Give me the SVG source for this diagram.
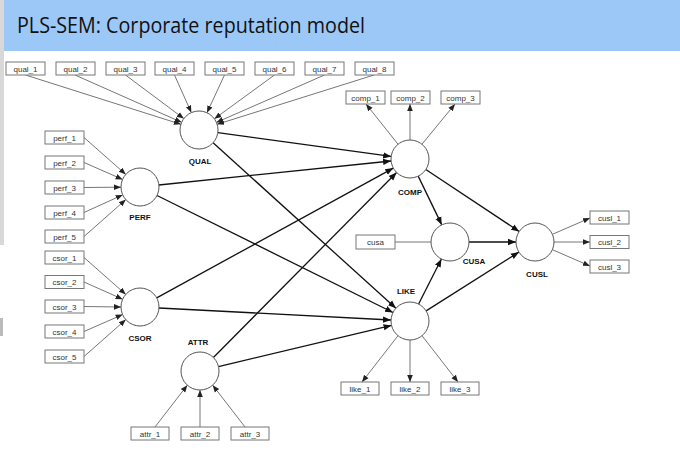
<svg xmlns="http://www.w3.org/2000/svg" width="680" height="461" viewBox="0 0 680 461">
<style>
.box{fill:#fff;stroke:#777;stroke-width:1}
.bt{font-family:"Liberation Sans",Arial,sans-serif;font-size:8px;fill:#333;text-anchor:middle}
.lv{fill:#fff;stroke:#555;stroke-width:1}
.lt{font-family:"Liberation Sans",Arial,sans-serif;font-size:8px;font-weight:bold;fill:#111;text-anchor:middle}
.ind line{stroke:#666;stroke-width:0.9;marker-end:url(#ag)}
.str line{stroke:#111;stroke-width:1.3;marker-end:url(#ab)}
</style>
<defs>
<marker id="ag" viewBox="0 0 10 10" refX="10" refY="5" markerWidth="7" markerHeight="7" markerUnits="userSpaceOnUse" orient="auto"><path d="M0,1 L10,5 L0,9 z" fill="#222"/></marker>
<marker id="ab" viewBox="0 0 10 10" refX="10" refY="5" markerWidth="8" markerHeight="8" markerUnits="userSpaceOnUse" orient="auto"><path d="M0,1 L10,5 L0,9 z" fill="#111"/></marker>
</defs>
<rect width="680" height="461" fill="#fff"/>
<rect x="0" y="0" width="4" height="245" fill="#d8d8d8"/>
<rect x="0" y="318" width="3" height="18" fill="#bbb"/>
<rect x="4" y="0" width="676" height="51" fill="#9cc8f8"/>
<text x="17" y="33" font-family="'Open Sans','Noto Sans',sans-serif" font-size="21" fill="#111" textLength="348" lengthAdjust="spacingAndGlyphs">PLS-SEM: Corporate reputation model</text>

<g id="connectors">
<g class="ind">
<line x1="25.5" y1="75" x2="180.9" y2="124.3"/>
<line x1="75" y1="75" x2="181.6" y2="122.3"/>
<line x1="125.5" y1="75" x2="183.8" y2="118.6"/>
<line x1="174.5" y1="75" x2="191.3" y2="112.6"/>
<line x1="224.5" y1="75" x2="207" y2="112.7"/>
<line x1="274.5" y1="75" x2="214.4" y2="118.8"/>
<line x1="324.5" y1="75" x2="216.4" y2="122.4"/>
<line x1="374" y1="75" x2="217.1" y2="124.3"/>
<line x1="84" y1="137.5" x2="125.8" y2="174.4"/>
<line x1="84" y1="162.5" x2="122.6" y2="179.4"/>
<line x1="84" y1="187.5" x2="121" y2="187.2"/>
<line x1="84" y1="212.5" x2="122.7" y2="194.9"/>
<line x1="84" y1="236.5" x2="125.8" y2="199.6"/>
<line x1="84" y1="257.5" x2="125.8" y2="294.4"/>
<line x1="84" y1="282" x2="122.6" y2="299.2"/>
<line x1="84" y1="306.5" x2="121" y2="307"/>
<line x1="84" y1="331.5" x2="122.6" y2="314.6"/>
<line x1="84" y1="356.5" x2="125.8" y2="319.6"/>
<line x1="155" y1="427" x2="187.3" y2="385.2"/>
<line x1="200" y1="427" x2="200" y2="390"/>
<line x1="245" y1="427" x2="212.7" y2="385.2"/>
<line x1="398" y1="144.2" x2="366" y2="104"/>
<line x1="410" y1="140" x2="410" y2="104"/>
<line x1="422" y1="144.2" x2="455" y2="104"/>
<line x1="398" y1="335.7" x2="362" y2="382"/>
<line x1="410" y1="340" x2="410" y2="382"/>
<line x1="422" y1="335.7" x2="458" y2="382"/>
<line x1="552.4" y1="234.3" x2="590" y2="218"/>
<line x1="554" y1="242" x2="590" y2="242"/>
<line x1="552.4" y1="249.7" x2="590" y2="266"/>
</g>
<line x1="395" y1="242" x2="431" y2="242" stroke="#666" stroke-width="0.9"/>
<g class="str">
<line x1="217.8" y1="132.6" x2="391.2" y2="156.4"/>
<line x1="213.1" y1="142.7" x2="395.9" y2="308.3"/>
<line x1="158.9" y1="185" x2="391.1" y2="161"/>
<line x1="157" y1="195.5" x2="393" y2="312.5"/>
<line x1="156.7" y1="297.9" x2="393.3" y2="168.1"/>
<line x1="159" y1="308" x2="391" y2="320"/>
<line x1="213.4" y1="357.5" x2="396.6" y2="172.5"/>
<line x1="218.5" y1="366.6" x2="391.5" y2="325.4"/>
<line x1="418.2" y1="176.1" x2="441.8" y2="224.9"/>
<line x1="425.8" y1="169.5" x2="519.2" y2="231.5"/>
<line x1="418.6" y1="304" x2="441.4" y2="259"/>
<line x1="426.1" y1="310.9" x2="518.9" y2="252.1"/>
<line x1="469" y1="242" x2="516" y2="242"/>
</g>
</g>

<g id="qual_1"><rect class="box" x="6" y="62" width="39" height="13"/><text class="bt" x="25.5" y="71.5">qual_1</text></g>
<g id="qual_2"><rect class="box" x="56" y="62" width="39" height="13"/><text class="bt" x="75.5" y="71.5">qual_2</text></g>
<g id="qual_3"><rect class="box" x="106" y="62" width="39" height="13"/><text class="bt" x="125.5" y="71.5">qual_3</text></g>
<g id="qual_4"><rect class="box" x="155" y="62" width="39" height="13"/><text class="bt" x="174.5" y="71.5">qual_4</text></g>
<g id="qual_5"><rect class="box" x="205" y="62" width="39" height="13"/><text class="bt" x="224.5" y="71.5">qual_5</text></g>
<g id="qual_6"><rect class="box" x="255" y="62" width="39" height="13"/><text class="bt" x="274.5" y="71.5">qual_6</text></g>
<g id="qual_7"><rect class="box" x="305" y="62" width="39" height="13"/><text class="bt" x="324.5" y="71.5">qual_7</text></g>
<g id="qual_8"><rect class="box" x="355" y="62" width="39" height="13"/><text class="bt" x="374.5" y="71.5">qual_8</text></g>

<g id="perf_1"><rect class="box" x="45" y="131" width="39" height="13"/><text class="bt" x="64.5" y="140.5">perf_1</text></g>
<g id="perf_2"><rect class="box" x="45" y="156" width="39" height="13"/><text class="bt" x="64.5" y="165.5">perf_2</text></g>
<g id="perf_3"><rect class="box" x="45" y="181" width="39" height="13"/><text class="bt" x="64.5" y="190.5">perf_3</text></g>
<g id="perf_4"><rect class="box" x="45" y="206" width="39" height="13"/><text class="bt" x="64.5" y="215.5">perf_4</text></g>
<g id="perf_5"><rect class="box" x="45" y="230" width="39" height="13"/><text class="bt" x="64.5" y="239.5">perf_5</text></g>
<g id="csor_1"><rect class="box" x="45" y="251" width="39" height="13"/><text class="bt" x="64.5" y="260.5">csor_1</text></g>
<g id="csor_2"><rect class="box" x="45" y="275.5" width="39" height="13"/><text class="bt" x="64.5" y="285">csor_2</text></g>
<g id="csor_3"><rect class="box" x="45" y="300" width="39" height="13"/><text class="bt" x="64.5" y="309.5">csor_3</text></g>
<g id="csor_4"><rect class="box" x="45" y="325" width="39" height="13"/><text class="bt" x="64.5" y="334.5">csor_4</text></g>
<g id="csor_5"><rect class="box" x="45" y="350" width="39" height="13"/><text class="bt" x="64.5" y="359.5">csor_5</text></g>

<g id="attr_1"><rect class="box" x="131" y="427" width="38" height="13"/><text class="bt" x="150" y="436.5">attr_1</text></g>
<g id="attr_2"><rect class="box" x="181" y="427" width="38" height="13"/><text class="bt" x="200" y="436.5">attr_2</text></g>
<g id="attr_3"><rect class="box" x="231" y="427" width="38" height="13"/><text class="bt" x="250" y="436.5">attr_3</text></g>

<g id="comp_1"><rect class="box" x="346" y="91" width="39" height="13"/><text class="bt" x="365.5" y="100.5">comp_1</text></g>
<g id="comp_2"><rect class="box" x="391" y="91" width="39" height="13"/><text class="bt" x="410.5" y="100.5">comp_2</text></g>
<g id="comp_3"><rect class="box" x="441" y="91" width="39" height="13"/><text class="bt" x="460.5" y="100.5">comp_3</text></g>

<g id="like_1"><rect class="box" x="341" y="382" width="38" height="13"/><text class="bt" x="360" y="391.5">like_1</text></g>
<g id="like_2"><rect class="box" x="391" y="382" width="38" height="13"/><text class="bt" x="410" y="391.5">like_2</text></g>
<g id="like_3"><rect class="box" x="441" y="382" width="38" height="13"/><text class="bt" x="460" y="391.5">like_3</text></g>

<g id="cusa"><rect class="box" x="356" y="235" width="39" height="14"/><text class="bt" x="375.5" y="245">cusa</text></g>
<g id="cusl_1"><rect class="box" x="590" y="211" width="39" height="13"/><text class="bt" x="609.5" y="220.5">cusl_1</text></g>
<g id="cusl_2"><rect class="box" x="590" y="235.5" width="39" height="13"/><text class="bt" x="609.5" y="245">cusl_2</text></g>
<g id="cusl_3"><rect class="box" x="590" y="260" width="39" height="13"/><text class="bt" x="609.5" y="269.5">cusl_3</text></g>

<g id="QUAL"><circle class="lv" cx="199" cy="130" r="19"/><text class="lt" x="200" y="164">QUAL</text></g>
<g id="PERF"><circle class="lv" cx="140" cy="187" r="19"/><text class="lt" x="140" y="220">PERF</text></g>
<g id="CSOR"><circle class="lv" cx="140" cy="307" r="19"/><text class="lt" x="140" y="341">CSOR</text></g>
<g id="ATTR"><circle class="lv" cx="200" cy="371" r="19"/><text class="lt" x="198" y="345">ATTR</text></g>
<g id="LIKE"><circle class="lv" cx="410" cy="321" r="19"/><text class="lt" x="406" y="294">LIKE</text></g>
<g id="COMP"><circle class="lv" cx="410" cy="159" r="19"/><text class="lt" x="410" y="195">COMP</text></g>
<g id="CUSA"><circle class="lv" cx="450" cy="242" r="19"/><text class="lt" x="474" y="264">CUSA</text></g>
<g id="CUSL"><circle class="lv" cx="535" cy="242" r="19"/><text class="lt" x="537" y="277">CUSL</text></g>
</svg>
